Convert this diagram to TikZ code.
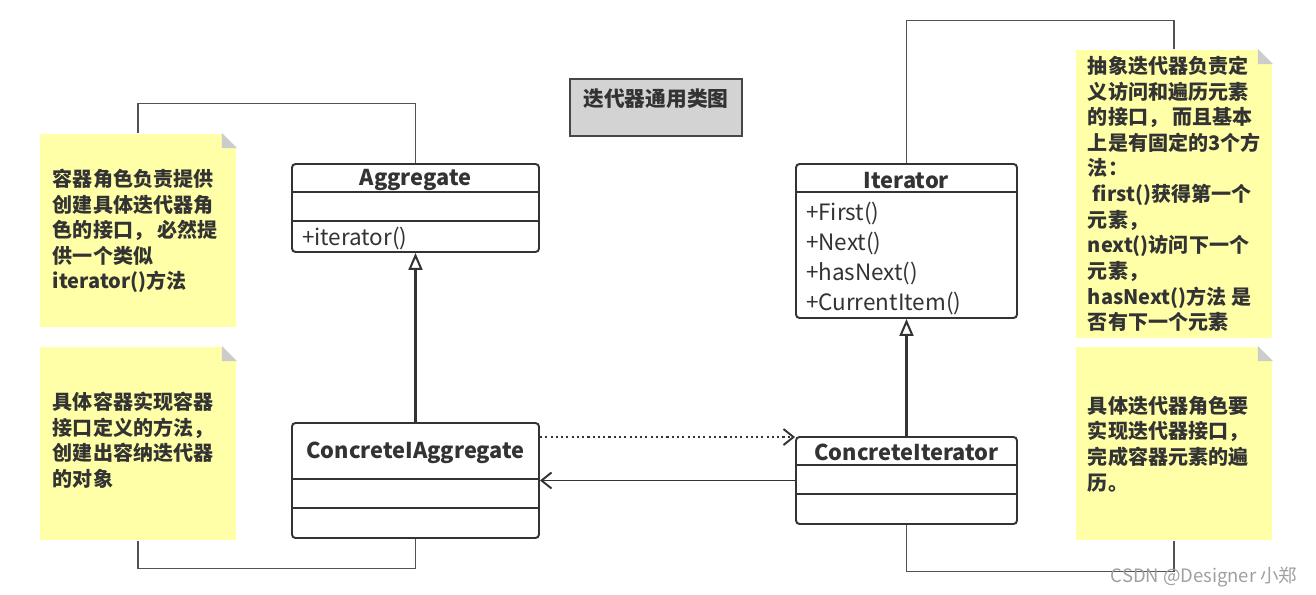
\documentclass[tikz,border=0pt]{standalone}
\usepackage{fontspec}
\setmainfont{Noto Sans CJK SC}
\usetikzlibrary{arrows.meta}
\usetikzlibrary{calc}
\usetikzlibrary{fit}
\usetikzlibrary{positioning}
\definecolor{notey}{HTML}{FFFFA8}
\definecolor{foldg}{HTML}{CCCCCC}
\definecolor{ink}{HTML}{333333}
\definecolor{titleg}{HTML}{D3D3D3}
\tikzset{every picture/.style={x=0.02cm,y=-0.02cm,line width=1.1pt},
clsbox/.style={draw=ink,fill=white,rounded corners=2pt,inner sep=0pt},
clsname/.style={font=\fontsize{12.4}{14}\selectfont\bfseries,text=ink},
member/.style={font=\fontsize{12.8}{14}\selectfont,text=ink,anchor=west,inner sep=0pt},
note/.style={fill=notey,inner sep=0pt},
notetext/.style={font=\fontsize{11.4}{14.6}\selectfont\bfseries,text=ink,align=left,anchor=north west,inner sep=0pt},
noteline/.style={draw=ink!85,line width=0.6pt},
inherit/.style={draw=ink,line width=1.15pt,-{Triangle[open,length=0.34cm,width=0.28cm]}},
assoc/.style={draw=ink,-{Straight Barb[length=0.2cm,width=0.32cm]}},
depend/.style={assoc,dash pattern=on 1.2pt off 1.8pt}}

\begin{document}
\begin{tikzpicture}
\useasboundingbox (0,0) rectangle (1316,595);

% notes
\node (n1) [note, fit={(40,134) (236,327)}] {};
\node (n2) [note, fit={(40,347) (236,540)}] {};
\node (n3) [note, fit={(1076,50) (1272,338)}] {};
\node (n4) [note, fit={(1076,347) (1272,540)}] {};
\foreach \n in {n1,n2,n3,n4} {
  \fill[white] ($(\n.north east)+(-15,0)$) -- (\n.north east) -- ($(\n.north east)+(0,15)$) -- cycle;
  \fill[foldg] ($(\n.north east)+(-15,0)$) -- ($(\n.north east)+(-15,15)$) -- ($(\n.north east)+(0,15)$) -- cycle;
}
\node (t1) [notetext] at (52,168) {容器角色负责提供\\创建具体迭代器角\\色的接口， 必然提\\供一个类似\\iterator()方法};
\node (t2) [notetext] at (52,391) {具体容器实现容器\\接口定义的方法，\\创建出容纳迭代器\\的对象};
\node (t3) [notetext] at (1087,55) {抽象迭代器负责定\\义访问和遍历元素\\的接口， 而且基本\\上是有固定的3个方\\法：\\\hspace{0.25em}first()获得第一个\\元素，\\next()访问下一个\\元素，\\hasNext()方法 是\\否有下一个元素};
\node (t4) [notetext] at (1087,395) {具体迭代器角色要\\实现迭代器接口，\\完成容器元素的遍\\历。};

% title
\node (title) [fit={(570,79) (742,136)}, draw=ink!90, fill=titleg, inner sep=0pt, line width=1.6pt,
  font=\fontsize{11.8}{14}\selectfont\bfseries, text=ink] {迭代器通用类图};

% classes
\node (agg) [clsbox, fit={(292,164) (539,252)}] {};
\draw[ink] ($(agg.north west)+(0,29)$) -- ($(agg.north east)+(0,29)$);
\draw[ink] ($(agg.north west)+(0,58)$) -- ($(agg.north east)+(0,58)$);
\node (aggname) [clsname] at ($(agg.north)+(0,17)$) {Aggregate};
\node (aggm) [member] at ($(agg.north west)+(10,75)$) {+iterator()};

\node (cagg) [clsbox, fit={(292,423) (539,538)}] {};
\draw[ink] ($(cagg.north west)+(0,57)$) -- ($(cagg.north east)+(0,57)$);
\draw[ink] ($(cagg.north west)+(0,86)$) -- ($(cagg.north east)+(0,86)$);
\node (caggname) [clsname] at ($(cagg.north)+(0,31)$) {ConcreteIAggregate};

\node (it) [clsbox, fit={(796,164) (1017,318)}] {};
\draw[ink] ($(it.north west)+(0,29)$) -- ($(it.north east)+(0,29)$);
\node (itname) [clsname] at ($(it.north)+(0,18)$) {Iterator};
\node (m1) [member] at ($(it.north west)+(10,50)$) {+First()};
\node (m2) [member] at ($(it.north west)+(10,80)$) {+Next()};
\node (m3) [member] at ($(it.north west)+(10,110)$) {+hasNext()};
\node (m4) [member] at ($(it.north west)+(10,140)$) {+CurrentItem()};

\node (ci) [clsbox, fit={(796,437) (1017,524)}] {};
\draw[ink] ($(ci.north west)+(0,29)$) -- ($(ci.north east)+(0,29)$);
\draw[ink] ($(ci.north west)+(0,58)$) -- ($(ci.north east)+(0,58)$);
\node (ciname) [clsname] at ($(ci.north)+(0,16)$) {ConcreteIterator};

% relations
\draw[inherit] (cagg.north) -- (agg.south);
\draw[inherit] (ci.north) -- (it.south);
\draw[depend] ($(cagg.north east)+(0,15)$) -- ($(ci.north west)+(0,1)$);
\draw[assoc] (ci.west) -- (cagg.east |- ci.west);

% note links
\draw[noteline] (n1.north) -- ++(0,-30) -| (agg.north);
\draw[noteline] (n2.south) -- ++(0,28) -| (cagg.south);
\draw[noteline] (it.north) -- ++(0,-143) -| (n3.north);
\draw[noteline] (ci.south) -- ++(0,47) -| (n4.south);

\node (wm) [anchor=west, text=gray!75, font=\fontsize{10.5}{12}\selectfont] at (1104,577) {CSDN @Designer 小郑};
\end{tikzpicture}
\end{document}
